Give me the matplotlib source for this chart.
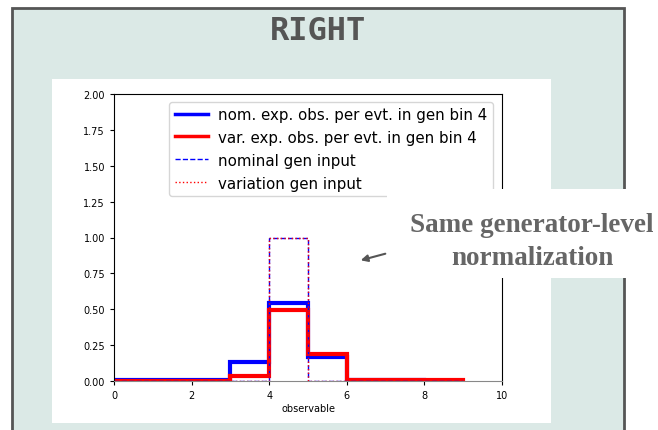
import numpy as np
import matplotlib.pyplot as plt
from matplotlib.patches import Rectangle, FancyArrowPatch

# histogram bin edges and contents (gen bin 4)
edges = [0, 1, 2, 3, 4, 5, 6, 7, 8, 9]
nom_exp = [0.005, 0.005, 0.005, 0.13, 0.545, 0.167, 0.01, 0.004, 0.003]
var_exp = [0.003, 0.003, 0.003, 0.035, 0.495, 0.19, 0.005, 0.004, 0.004]
nom_gen = [0, 0, 0, 0, 1.0, 0, 0, 0, 0]
var_gen = [0, 0, 0, 0, 1.0, 0, 0, 0, 0]

labels = ["nom. exp. obs. per evt. in gen bin 4",
          "var. exp. obs. per evt. in gen bin 4",
          "nominal gen input",
          "variation gen input"]

W, H = 658, 431
fig = plt.figure(figsize=(W / 100, H / 100), dpi=100)
fig.patch.set_facecolor("white")

def box(x0, y0, x1, y1):
    # pixel box (top-left origin) -> figure fraction rect
    return (x0 / W, 1 - y1 / H), (x1 - x0) / W, (y1 - y0) / H

# slide panel
xy, w, h = box(12, 9, 624, 440)
fig.patches.append(Rectangle(xy, w, h, transform=fig.transFigure,
                             facecolor="#dbe9e6", edgecolor="#555555", lw=2, zorder=-2))
fig.text(318 / W, 1 - 32 / H, "RIGHT", ha="center", va="center",
         fontsize=23, fontweight="bold", family="DejaVu Sans Mono", color="#555555")

# white plot canvas
xy, w, h = box(52, 80, 551, 424)
fig.patches.append(Rectangle(xy, w, h, transform=fig.transFigure,
                             facecolor="white", edgecolor="none", zorder=-1))

ax = fig.add_axes([114 / W, 1 - 382 / H, (502 - 114) / W, (382 - 95) / H])
ax.set_zorder(1)
ax.set_facecolor("none")
ax.stairs(nom_exp, edges, color="blue", lw=3)
ax.stairs(var_exp, edges, color="red", lw=3)
ax.stairs(nom_gen, edges, color="blue", lw=1, ls="--")
ax.stairs(var_gen, edges, color="red", lw=1, ls=":")
ax.set_xlim(0, 10)
ax.set_ylim(0, 2)
ax.set_xticks(np.arange(0, 11, 2))
ax.set_yticks(np.arange(0, 2.01, 0.25))
ax.yaxis.set_major_formatter(plt.FormatStrFormatter("%.2f"))
ax.tick_params(labelsize=7, length=3)
ax.spines["bottom"].set_color("#888888")
ax.set_xlabel("observable", fontsize=7, labelpad=2)

h1 = plt.Line2D([], [], color="blue", lw=2.5)
h2 = plt.Line2D([], [], color="red", lw=2.5)
h3 = plt.Line2D([], [], color="blue", lw=1, ls="--")
h4 = plt.Line2D([], [], color="red", lw=1, ls=":")
ax.legend([h1, h2, h3, h4], labels, loc="upper right", bbox_to_anchor=(0.995, 1.0),
          fontsize=10.8, handlelength=2.2, labelspacing=0.53, borderpad=0.35,
          handletextpad=0.7)

# annotation box with arrow
xy, w, h = box(387, 190, 658, 279)
fig.patches.append(Rectangle(xy, w, h, transform=fig.transFigure,
                             facecolor="white", edgecolor="none", zorder=5))
fig.text(532 / W, 1 - 242 / H, "Same generator-level\nnormalization", ha="center", va="center",
         fontsize=19.5, fontweight="bold", family="Liberation Serif", color="#666666",
         linespacing=1.4, zorder=6)
fig.patches.append(FancyArrowPatch((388 / W, 1 - 254 / H), (358 / W, 1 - 262 / H),
                                   transform=fig.transFigure, arrowstyle="-|>",
                                   color="#555555", lw=1.5, mutation_scale=10, zorder=7))

fig.savefig("out.png", dpi=100)
